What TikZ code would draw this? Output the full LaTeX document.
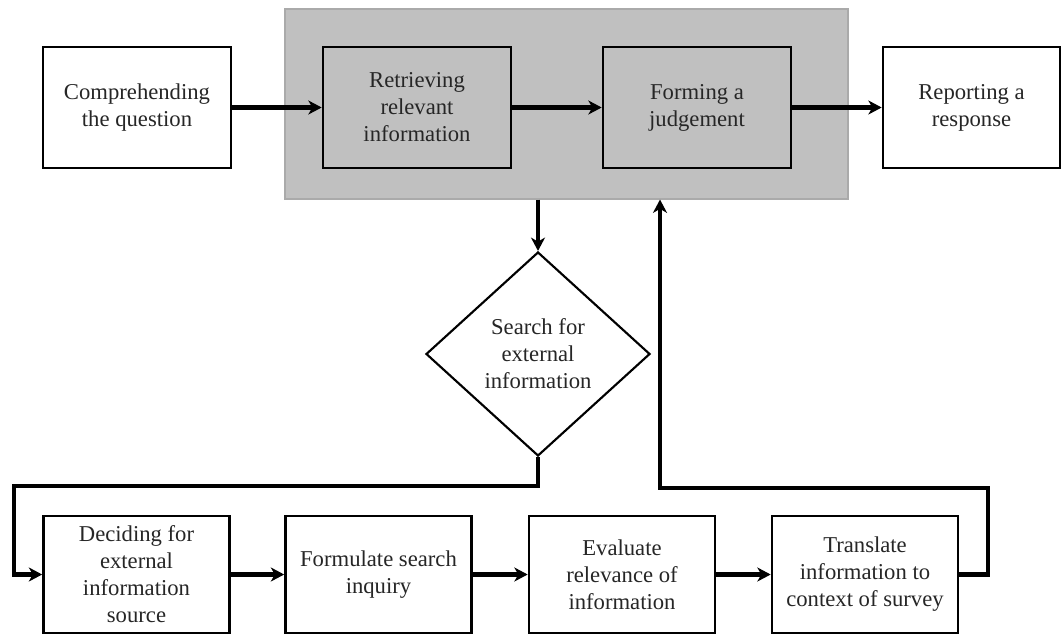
\documentclass[tikz,border=0pt]{standalone}
\usepackage{fontspec}
\setmainfont{Liberation Serif}
\usetikzlibrary{arrows.meta,shapes.geometric}
\definecolor{coregray}{RGB}{192,192,192}
\definecolor{coreline}{RGB}{170,170,170}

\begin{document}
\begin{tikzpicture}[x=0.75pt, y=-0.75pt,
    every node/.style={font=\fontsize{17}{20.25}\selectfont, text=black!85},
    stage/.style={draw, line width=2pt, fill=white, minimum width=141pt, minimum height=90.75pt, align=center, inner sep=0pt},
    substage/.style={stage, minimum width=139.5pt, minimum height=87.75pt},
    corebox/.style={draw=coreline, line width=0.8pt, fill=coregray, minimum width=422.25pt, minimum height=142.5pt, inner sep=0pt},
    decision/.style={draw, diamond, line width=1.6pt, fill=white, minimum width=168pt, minimum height=153pt, inner sep=0pt, align=center},
    arrow/.style={-{Stealth[length=10pt, width=10.5pt, inset=3pt]}, line width=3.3pt}
]
    \useasboundingbox (0,0) rectangle (1062,635);

    % grey block behind the two middle stages
    \node[corebox] (core) at (566.5,104) {};

    % top row
    \node[stage] (comp) at (137,107.5) {Comprehending\\the question};
    \node[stage, fill=coregray] (retr) at (417,107.5) {Retrieving\\relevant\\information};
    \node[stage, fill=coregray] (judge) at (697,107.5) {Forming a\\judgement};
    \node[stage, minimum width=132.75pt] (report) at (971.5,107.5) {Reporting a\\response};

    % decision
    \node[decision] (search) at (538,354) {Search for\\external\\information};

    % bottom row
    \node[substage] (decide) at (136.5,574.5) {Deciding for\\external\\information\\source};
    \node[substage] (inquiry) at (378.5,574.5) {Formulate search\\inquiry};
    \node[substage] (relev) at (622,574.5) {Evaluate\\relevance of\\information};
    \node[substage] (transl) at (865,574.5) {Translate\\information to\\context of survey};

    \coordinate (split) at (14,486);
    \coordinate (back) at (988,488);
    \coordinate (rise) at (660,488);

    \draw[arrow] (comp) -- (retr);
    \draw[arrow] (retr) -- (judge);
    \draw[arrow] (judge) -- (report);
    \draw[arrow] (core.south -| search.north) -- (search.north);
    \draw[arrow] (search.south) |- (split) |- (decide.west);
    \draw[arrow] (decide) -- (inquiry);
    \draw[arrow] (inquiry) -- (relev);
    \draw[arrow] (relev) -- (transl);
    \draw[arrow] (transl.east) -| (back) -- (rise) -- (rise |- core.south);
\end{tikzpicture}
\end{document}
